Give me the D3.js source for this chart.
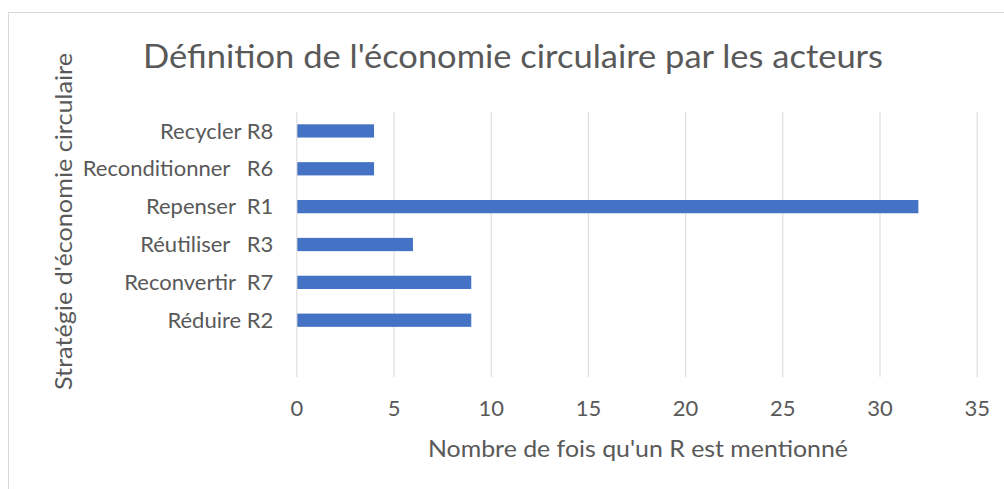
<!DOCTYPE html>
<meta charset="utf-8">
<style>
body { margin: 0; background: #fff; }
svg text { font-family: Lato, "Open Sans", sans-serif; fill: #595959; white-space: pre; }
.grid line { stroke: #d9d9d9; }
</style>
<body>
<svg id="chart" width="1004" height="489"></svg>
<script src="https://d3js.org/d3.v7.min.js"></script>
<script>
// data, top to bottom as it appears (last category is blank in the source)
var categories = ["Recycler R8", "Reconditionner   R6", "Repenser  R1", "Réutiliser   R3", "Reconvertir  R7", "Réduire R2", ""];
var mentions = [4, 4, 32, 6, 9, 9, null];
var xTicks = [0, 5, 10, 15, 20, 25, 30, 35];

var titleText = "Définition de l'économie circulaire par les acteurs";
var xTitleText = "Nombre de fois qu'un R est mentionné";
var yTitleText = "Stratégie d'économie circulaire";

var svg = d3.select("#chart");

// chart frame
svg.append("rect")
  .attr("x", 8.5).attr("y", 12.5)
  .attr("width", 1100).attr("height", 600)
  .attr("fill", "none")
  .attr("stroke", "#d9d9d9");

var plot = {left: 296.3, right: 976.7, top: 112, bottom: 377};

var x = d3.scaleLinear()
  .domain([0, 35])
  .range([plot.left, plot.right]);

var y = d3.scaleBand()
  .domain(categories.map(function(d, i) { return i; }))
  .range([plot.top, plot.bottom])
  .paddingInner(0.65)
  .paddingOuter(0.325);

// gridlines + tick labels
var xAxis = svg.append("g")
  .attr("class", "grid")
  .attr("transform", "translate(0," + plot.bottom + ")")
  .call(d3.axisBottom(x).tickValues(xTicks).tickSize(-(plot.bottom - plot.top)));

xAxis.select(".domain").remove();
xAxis.selectAll("text")
  .attr("y", 31)
  .attr("dy", "0.35em")
  .style("font-size", "22px")
  .style("fill", "#595959");

// category labels
var yAxis = svg.append("g")
  .attr("transform", "translate(" + plot.left + ",0)")
  .call(d3.axisLeft(y).tickSize(0).tickPadding(23).tickFormat(function(i) { return categories[i]; }));

yAxis.select(".domain").remove();
yAxis.selectAll("text")
  .attr("dy", "0.35em")
  .style("font-size", "22px")
  .style("fill", "#595959");

// bars
svg.append("g")
  .selectAll("rect")
  .data(mentions.map(function(v, i) { return {i: i, v: v}; }).filter(function(d) { return d.v != null; }))
  .enter().append("rect")
    .attr("x", x(0) + 1)
    .attr("y", function(d) { return y(d.i); })
    .attr("width", function(d) { return x(d.v) - x(0) - 1; })
    .attr("height", y.bandwidth())
    .attr("fill", "#4472c4");

// titles
function fitText(sel, w) {
  var len = sel.node().getComputedTextLength();
  if (Math.abs(len - w) > 2) sel.attr("textLength", w).attr("lengthAdjust", "spacingAndGlyphs");
}

var title = svg.append("text")
  .attr("x", 513).attr("y", 68)
  .attr("text-anchor", "middle")
  .style("font-size", "33px")
  .text(titleText);
fitText(title, 740);

var xTitle = svg.append("text")
  .attr("x", 638).attr("y", 456.5)
  .attr("text-anchor", "middle")
  .style("font-size", "23px")
  .text(xTitleText);
fitText(xTitle, 420);

var yTitle = svg.append("text")
  .attr("transform", "translate(72,221.5) rotate(-90)")
  .attr("text-anchor", "middle")
  .style("font-size", "23px")
  .text(yTitleText);
fitText(yTitle, 337);
</script>
</body>
